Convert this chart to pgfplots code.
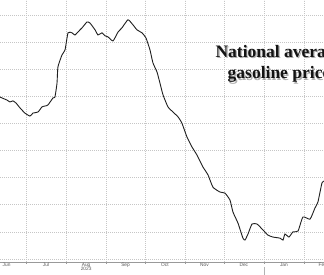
\documentclass[border=0pt]{standalone}
\usepackage{pgfplots}
\pgfplotsset{compat=1.18}
\usepackage{fontspec}
\setmainfont{Liberation Serif}
\setsansfont{Liberation Sans}
\begin{document}
\begin{tikzpicture}[x=1pt,y=1pt]
\useasboundingbox (0,0) rectangle (324,275);
\clip (0,0) rectangle (324,275);
\fill[white] (0,0) rectangle (324,275);
\begin{axis}[
  at={(0pt,13pt)}, anchor=south west,
  scale only axis, width=324pt, height=262pt,
  xmin=9.9, xmax=260.5, ymin=2.989, ymax=3.955,
  axis x line*=bottom, axis y line*=left,
  y axis line style={draw=none},
  x axis line style={draw=gray!80, line width=0.7pt, -},
  xtick={30,61,92,122,153,183,214,245},
  xticklabels={},
  tick align=outside,
  major tick length=2pt,
  xtick style={draw=gray!80, line width=0.5pt},
  ytick={3.0,3.1,3.2,3.3,3.4,3.5,3.6,3.7,3.8,3.9},
  yticklabels={},
  ytick style={draw=none},
  grid=major,
  grid style={dash pattern=on 0.8pt off 1.2pt, gray!45, line width=0.6pt},
  extra x ticks={15,45.5,76.5,107,137.5,168,198.5,229.5,259.5},
  extra x tick labels={Jun,Jul,{Aug\\[-1.5pt]2023},Sep,Oct,Nov,Dec,Jan,Feb},
  extra x tick style={grid=none, major tick length=0pt},
  xticklabel style={font=\sffamily\fontsize{4.8}{5.5}\selectfont, text=gray!70!black, align=center, inner sep=1pt, yshift=0pt},
  clip=false,
]
\addplot[black!88, line width=0.9pt, smooth, tension=0.3] coordinates {
(9.9,3.597) (15.3,3.586) (17.6,3.579) (19.9,3.583) (22.3,3.575) (25.4,3.557)
(29.2,3.538) (33.1,3.527) (35.4,3.538) (39.3,3.542) (42.4,3.561) (44.7,3.564)
(47.0,3.568) (50.9,3.594) (52.4,3.597) (54.0,3.649) (54.7,3.708) (57.8,3.752)
(60.2,3.771) (62.5,3.834) (65.6,3.834) (67.9,3.826) (71.8,3.845) (73.3,3.852)
(77.2,3.874) (79.5,3.870) (83.4,3.845) (85.7,3.826) (88.8,3.834) (91.1,3.823)
(93.4,3.819) (97.3,3.804) (101.2,3.837) (104.2,3.852) (108.9,3.882) (112.8,3.863)
(115.8,3.845) (119.7,3.834) (122.8,3.815) (125.9,3.771) (128.2,3.723) (131.3,3.690)
(133.6,3.649) (136.0,3.605) (139.8,3.561) (143.7,3.542) (147.6,3.524) (150.6,3.501)
(154.5,3.450) (158.4,3.413) (162.3,3.383) (166.9,3.339) (170.8,3.310) (174.6,3.265)
(180.0,3.247) (183.9,3.243) (187.8,3.217) (190.1,3.173) (194.0,3.132) (197.8,3.077)
(199.4,3.070) (201.7,3.092) (204.8,3.129) (208.7,3.129) (213.3,3.107) (217.2,3.088)
(221.0,3.081) (226.4,3.077) (228.8,3.070) (230.3,3.092) (233.4,3.081) (236.5,3.100)
(240.4,3.103) (244.2,3.155) (249.7,3.147) (253.5,3.188) (255.8,3.210) (258.9,3.280)
(260.5,3.287)
};
\coordinate (janbase) at (axis cs:214,2.989);
\end{axis}
\draw[gray!60, line width=0.5pt] (janbase) ++(0,-5) -- ++(0,-10);
\node[anchor=base, inner sep=0, font=\bfseries\fontsize{17.5}{21}\selectfont, text=black!45, opacity=0.7] at (280.2,216.1) {National average};
\node[anchor=base, inner sep=0, font=\bfseries\fontsize{17.5}{21}\selectfont, text=black!45, opacity=0.7] at (280.2,194.8) {gasoline price};
\node[anchor=base, inner sep=0, font=\bfseries\fontsize{17.5}{21}\selectfont, text=black!92] at (279,217.3) {National average};
\node[anchor=base, inner sep=0, font=\bfseries\fontsize{17.5}{21}\selectfont, text=black!92] at (279,196) {gasoline price};
\end{tikzpicture}
\end{document}
